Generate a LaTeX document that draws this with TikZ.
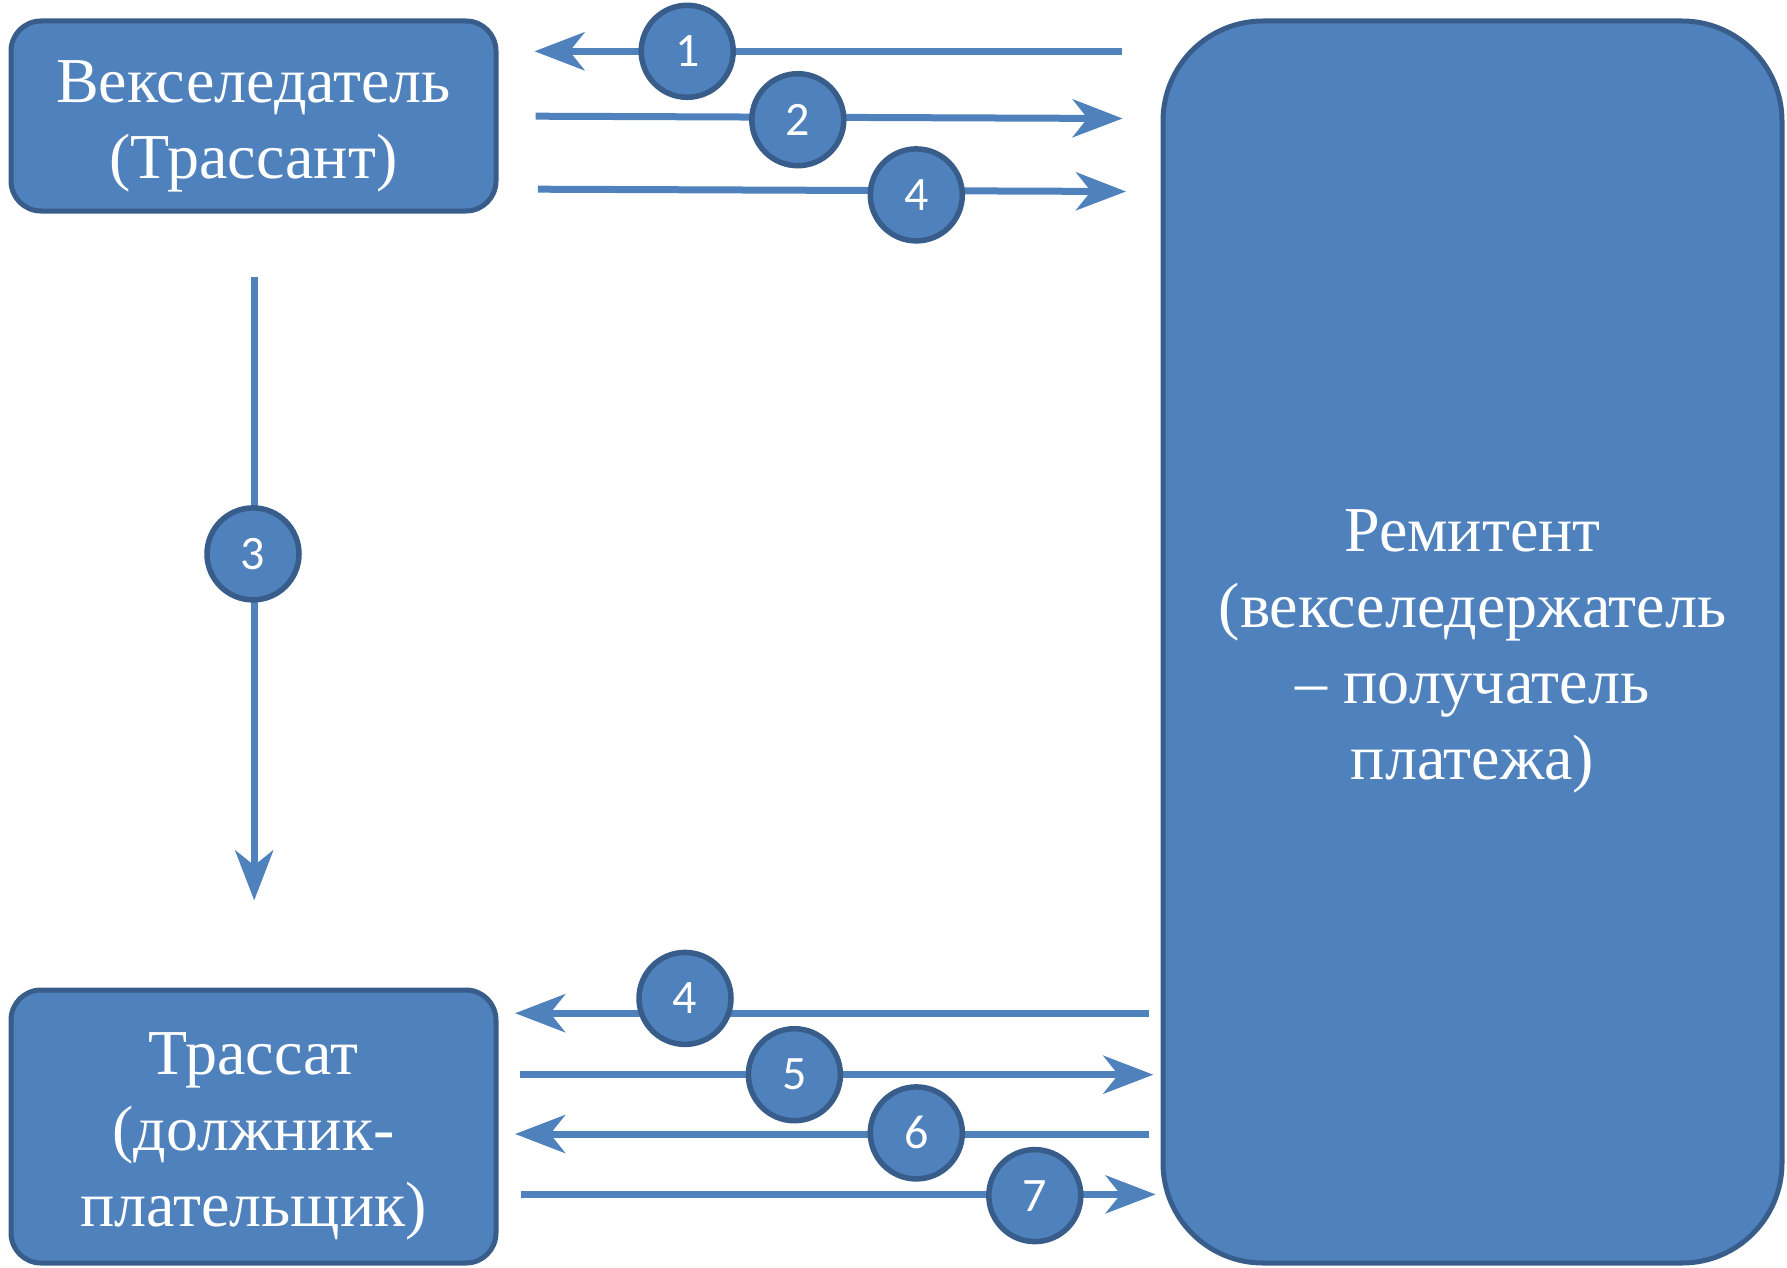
\documentclass[tikz,border=0pt]{standalone}
\usepackage{fontspec}
\setmainfont{Liberation Serif}
\newfontfamily\labelfont{Liberation Serif}
\newfontfamily\numfont{Carlito}
\usetikzlibrary{arrows.meta}
\definecolor{boxfill}{HTML}{4F81BD}
\definecolor{boxline}{HTML}{385D8A}

\tikzset{
  party/.style={draw=boxline, line width=5pt, fill=boxfill, rounded corners=30pt, inner sep=0pt},
  partytext/.style={text=white, font=\labelfont\fontsize{64}{76}\selectfont, align=center, inner sep=0pt},
  flow/.style={draw=boxfill, line width=7pt,
    -{Stealth[length=50pt, width=38pt, inset=15pt]}},
  num/.style={circle, draw=boxline, line width=5.5pt, fill=boxfill, minimum size=92pt,
    inner sep=0pt, text=white, font=\numfont\fontsize{48}{48}\selectfont},
}

\begin{document}
\begin{tikzpicture}[x=1pt, y=-1pt]
\useasboundingbox (0,0) rectangle (1787,1268);

% participants
\node[party, minimum width=485pt, minimum height=190pt] (drawer) at (253.5,116) {};
\node[party, minimum width=485pt, minimum height=273pt] (drawee) at (253.5,1126.5) {};
\node[party, rounded corners=100pt, minimum width=619pt, minimum height=1242pt] (payee) at (1472.5,642) {};

\node[partytext] (drawerT) at ([yshift=-10pt]drawer.center) {Векселедатель\\(Трассант)};
\node[partytext] (draweeT) at ([yshift=-10pt]drawee.center) {Трассат\\(должник-\\плательщик)};
\node[partytext] (payeeT) at ([yshift=-9pt]payee.center) {Ремитент\\(векселедержатель\\– получатель\\платежа)};

% free ends of the flows
\coordinate (a1s) at (1121.5,51.3);  \coordinate (a1e) at (534.5,51.3);
\coordinate (a2s) at (535.7,116.2);  \coordinate (a2e) at (1122.6,118.5);
\coordinate (a4s) at (537.9,189.2);  \coordinate (a4e) at (1126,191.5);
\coordinate (a3s) at (254.2,277);    \coordinate (a3e) at (254.2,900.4);
\coordinate (b4s) at (1148.8,1013.2); \coordinate (b4e) at (515.1,1013.2);
\coordinate (b5s) at (519.7,1074.7);  \coordinate (b5e) at (1153.3,1074.7);
\coordinate (b6s) at (1148.8,1134);   \coordinate (b6e) at (515.1,1134);
\coordinate (b7s) at (520.8,1194.4);  \coordinate (b7e) at (1155.6,1194.4);

% flows
\draw[flow] (a1s) -- (a1e);
\draw[flow] (a2s) -- (a2e);
\draw[flow] (a4s) -- (a4e);
\draw[flow] (a3s) -- (a3e);
\draw[flow] (b4s) -- (b4e);
\draw[flow] (b5s) -- (b5e);
\draw[flow] (b6s) -- (b6e);
\draw[flow] (b7s) -- (b7e);

% step numbers
\node[num] (n1) at (687.2,51.3) {1};
\node[num] (n2) at (797.8,119.7) {2};
\node[num] (n4a) at (916.3,194.9) {4};
\node[num] (n3) at (253,553.9) {3};
\node[num] (n4b) at (685,998.4) {4};
\node[num] (n5) at (794.4,1074.7) {5};
\node[num] (n6) at (916.3,1132.9) {6};
\node[num] (n7) at (1034.8,1195.6) {7};
\end{tikzpicture}
\end{document}
